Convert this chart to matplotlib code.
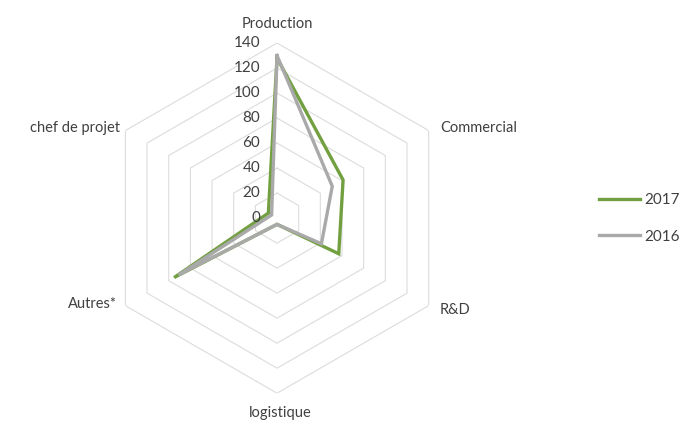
import numpy as np
import matplotlib
matplotlib.use("Agg")
import matplotlib.pyplot as plt

plt.rcParams['font.family'] = ['Lato', 'DejaVu Sans']

# Effectifs par fonction
categories = ['Production', 'Commercial', 'R&D', 'logistique', 'Autres*', 'chef de projet']
values_2017 = [128, 61, 57, 5, 95, 8]
values_2016 = [130, 51, 41, 5, 91, 5]
ticks = [0, 20, 40, 60, 80, 100, 120, 140]

green = '#72a040'
grey = '#a9a9a9'
text_col = '#404040'

n = len(categories)
angles = np.arange(n) * 2 * np.pi / n

fig = plt.figure(figsize=(6.84, 4.26), dpi=100)
ax = fig.add_axes([0.149, 0.077, 0.512, 0.822], projection='polar')
ax.set_theta_offset(np.pi / 2)
ax.set_theta_direction(-1)
ax.set_ylim(0, 140)
ax.grid(False)
ax.spines['polar'].set_visible(False)
ax.set_xticks([])
ax.set_yticks([])

# hexagonal rings
closed = np.append(angles, angles[0])
for t in ticks[1:]:
    ax.plot(closed, [t] * (n + 1), color='#dcdcdc', lw=0.8, zorder=1)

def closed_vals(v):
    return v + v[:1]

ax.plot(closed, closed_vals(values_2017), color=green, lw=2.4, label='2017', zorder=3,
        solid_joinstyle='miter')
ax.plot(closed, closed_vals(values_2016), color=grey, lw=2.4, label='2016', zorder=4,
        solid_joinstyle='miter')

# radial scale labels along the vertical axis
for t in ticks:
    ax.annotate(str(t), xy=(0, t), xytext=(-12, 0), textcoords='offset points',
                ha='right', va='center', fontsize=11, color=text_col, zorder=5)

# category labels
offsets = [(0, 14, 'center', 'center'),
           (8, 2, 'left', 'center'),
           (8, -3, 'left', 'center'),
           (2, -14, 'center', 'center'),
           (-6, 1, 'right', 'center'),
           (-4, 2, 'right', 'center')]
for ang, name, (dx, dy, ha, va) in zip(angles, categories, offsets):
    ax.annotate(name, xy=(ang, 140), xytext=(dx, dy), textcoords='offset points',
                ha=ha, va=va, fontsize=10.5, color=text_col)

leg = fig.legend(loc='center left', bbox_to_anchor=(0.855, 0.487), frameon=False,
                 fontsize=11, handlelength=2.7, handletextpad=0.3, labelspacing=1.45,
                 labelcolor=text_col)

fig.savefig('out.png', dpi=100, facecolor='white')
